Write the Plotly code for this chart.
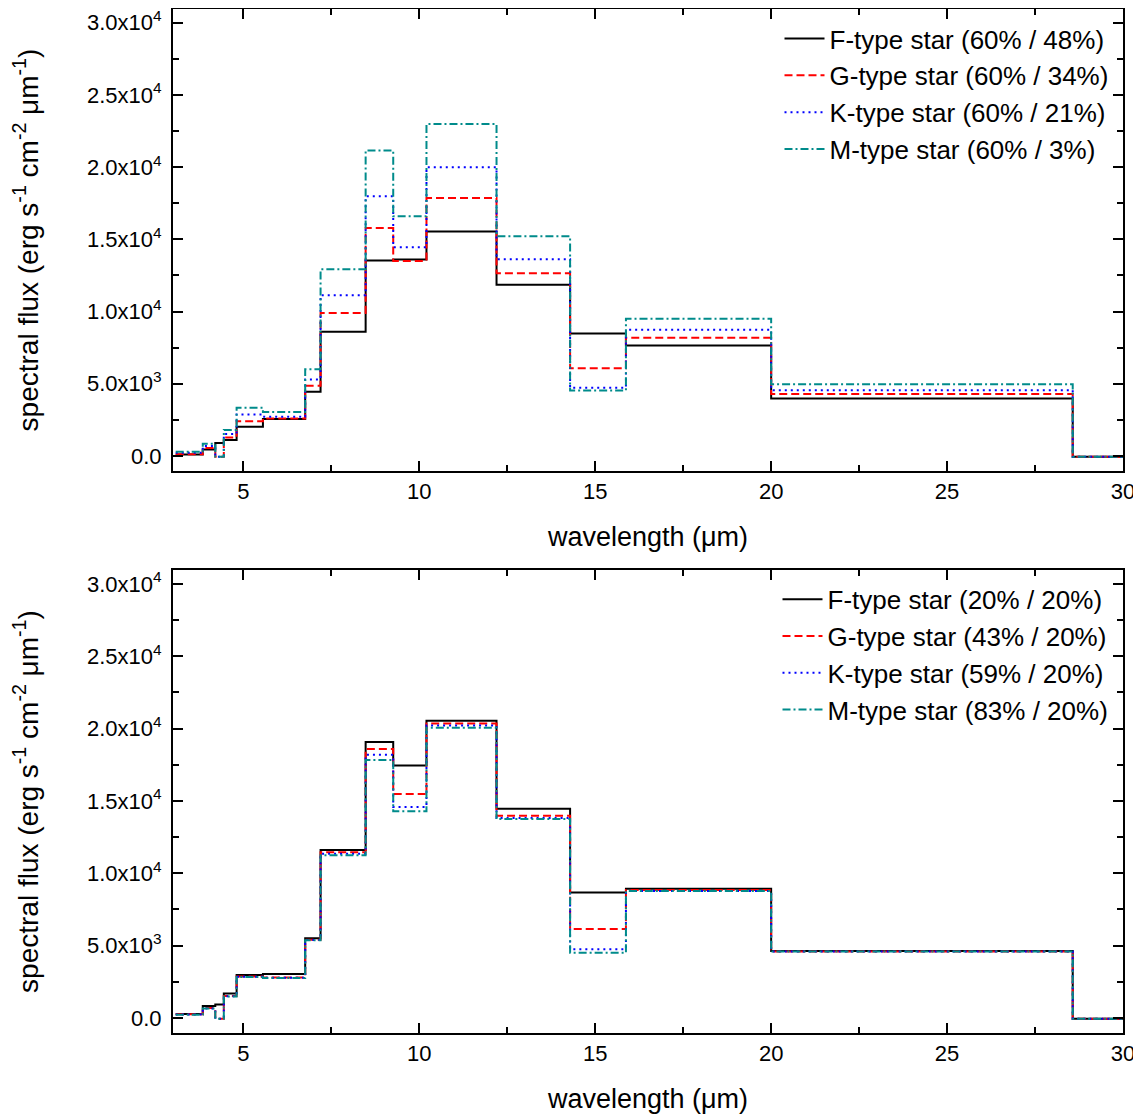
import plotly.graph_objects as go

# band edges (micron) of the longwave bins
edges = [3.077, 3.846, 4.202, 4.444, 4.808, 5.556, 6.757, 7.194, 8.475, 9.259,
         10.204, 12.195, 14.286, 15.873, 20.0, 28.571, 1000.0]

# top panel: fixed 60% / varying
top_names = ["F-type star (60% / 48%)", "G-type star (60% / 34%)",
             "K-type star (60% / 21%)", "M-type star (60% / 3%)"]
top_F = [100, 450, 900, 1100, 2030, 2560, 4450, 8600, 13530, 13600, 15540, 11850, 8490, 7650, 3980, -50]
top_G = [120, 550, -60, 1290, 2400, 2600, 4860, 9910, 15790, 13510, 17860, 12660, 6070, 8180, 4300, -50]
top_K = [230, 700, -60, 1520, 2880, 2720, 5300, 11130, 17980, 14450, 19990, 13620, 4720, 8740, 4560, -50]
top_M = [300, 850, -60, 1800, 3340, 3040, 6000, 12930, 21160, 16600, 22980, 15220, 4540, 9500, 4970, -50]

# bottom panel: varying / fixed 20%
bot_names = ["F-type star (20% / 20%)", "G-type star (43% / 20%)",
             "K-type star (59% / 20%)", "M-type star (83% / 20%)"]
bot_F = [280, 830, 930, 1690, 2960, 3030, 5500, 11610, 19070, 17450, 20530, 14450, 8660, 8930, 4620, -50]
bot_G = [250, 680, -60, 1520, 2860, 2790, 5400, 11450, 18590, 15470, 20340, 13970, 6140, 8840, 4600, -50]
bot_K = [230, 660, -60, 1500, 2840, 2770, 5380, 11340, 18190, 14570, 20200, 13810, 4740, 8770, 4600, -50]
bot_M = [220, 650, -60, 1490, 2830, 2760, 5370, 11250, 17820, 14290, 20060, 13740, 4500, 8770, 4600, -50]

y_tickvals = [0, 5000, 10000, 15000, 20000, 25000, 30000]
y_ticktext = ["0.0", "5.0x10<sup>3</sup>", "1.0x10<sup>4</sup>", "1.5x10<sup>4</sup>",
              "2.0x10<sup>4</sup>", "2.5x10<sup>4</sup>", "3.0x10<sup>4</sup>"]

colors = ["black", "#FF0000", "#0000FF", "#008B8B"]
dashes = ["solid", "8px,4px", "2px,4px", "8px,3px,2px,3px"]

fig = go.Figure()

def add_panel(names, series, xa, ya, legend):
    for name, vals, c, d in zip(names, series, colors, dashes):
        fig.add_trace(go.Scatter(
            x=edges, y=vals + [vals[-1]],
            mode="lines", line=dict(color=c, dash=d, width=2, shape="hv"),
            name=name, xaxis=xa, yaxis=ya, legend=legend,
        ))

add_panel(top_names, [top_F, top_G, top_K, top_M], "x", "y", "legend")
add_panel(bot_names, [bot_F, bot_G, bot_K, bot_M], "x2", "y2", "legend2")

font = "Liberation Sans, Arial, sans-serif"

xcommon = dict(range=[3, 30], tickvals=[5, 10, 15, 20, 25, 30], ticks="inside",
               ticklen=10, tickwidth=2, tickcolor="black", showline=True,
               linecolor="black", linewidth=2, mirror="allticks", showgrid=False,
               zeroline=False, tickfont=dict(size=22, color="black"),
               ticklabeloverflow="allow",
               minor=dict(dtick=2.5, tick0=0, ticks="inside", ticklen=6,
                          tickwidth=2, tickcolor="black", showgrid=False),
               title=dict(text="wavelength (μm)", font=dict(size=27, color="black"),
                          standoff=24))
ycommon = dict(range=[-1040, 30950], tickmode="array", tickvals=y_tickvals,
               ticktext=y_ticktext, ticks="inside", ticklen=10, tickwidth=2,
               tickcolor="black", showline=True, linecolor="black", linewidth=2,
               mirror="allticks", showgrid=False, zeroline=False,
               tickfont=dict(size=22, color="black"),
               ticklabeloverflow="allow", ticklabelstandoff=5,
               minor=dict(tickvals=[2500, 7500, 12500, 17500, 22500, 27500],
                          ticks="inside", ticklen=6, tickwidth=2,
                          tickcolor="black", showgrid=False),
               title=dict(text="spectral flux (erg s<sup>-1</sup> cm<sup>-2</sup> μm<sup>-1</sup>)",
                          font=dict(size=28, color="black"), standoff=42))

legcommon = dict(font=dict(size=26, color="black", family=font),
                 bgcolor="rgba(0,0,0,0)", xanchor="right", yanchor="top",
                 tracegroupgap=0, itemwidth=40)

fig.update_layout(
    width=1133, height=1108,
    margin=dict(l=165, r=18, t=1, b=83, autoexpand=False),
    paper_bgcolor="white", plot_bgcolor="white",
    font=dict(family=font, color="black"),
    xaxis=dict(domain=[0, 1], anchor="y", **xcommon),
    yaxis=dict(domain=[0.5488, 1], anchor="x", **ycommon),
    xaxis2=dict(domain=[0, 1], anchor="y2", **xcommon),
    yaxis2=dict(domain=[0, 0.4521], anchor="x2", **ycommon),
    legend=dict(x=0.99, y=0.994, **legcommon),
    legend2=dict(x=0.99, y=0.4465, **legcommon),
)

fig.write_html("out.html")
